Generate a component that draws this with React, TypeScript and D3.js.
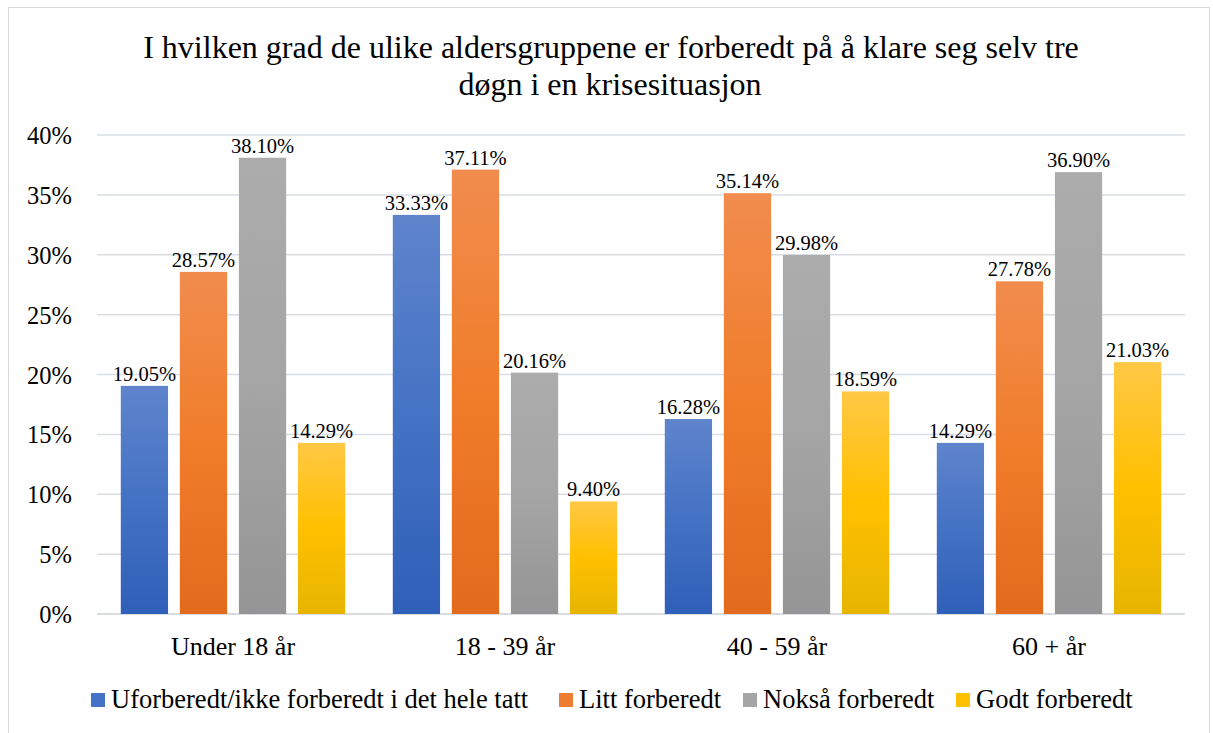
import React from 'react';
import * as d3 from 'd3';

const categories = ['Under 18 år', '18 - 39 år', '40 - 59 år', '60 + år'];
const seriesNames = [
  'Uforberedt/ikke forberedt i det hele tatt',
  'Litt forberedt',
  'Nokså forberedt',
  'Godt forberedt',
];
const uforberedt = [19.05, 33.33, 16.28, 14.29];
const litt = [28.57, 37.11, 35.14, 27.78];
const noksa = [38.1, 20.16, 29.98, 36.9];
const godt = [14.29, 9.4, 18.59, 21.03];
const yTicks = [0, 5, 10, 15, 20, 25, 30, 35, 40];

const seriesValues = [uforberedt, litt, noksa, godt];
const gradients = [
  { top: '#5f84cc', mid: '#4472c4', bottom: '#2f5fb8', solid: '#4472c4' },
  { top: '#f18c4e', mid: '#f07d2a', bottom: '#e26a1c', solid: '#ed7d31' },
  { top: '#acacac', mid: '#a5a5a5', bottom: '#959595', solid: '#a5a5a5' },
  { top: '#ffc845', mid: '#ffc000', bottom: '#e6b500', solid: '#ffc000' },
];

const App = () => {
  const W = 1213;
  const H = 733;
  const plot = { left: 97, right: 1185, top: 135, bottom: 614 };

  const x0 = d3.scaleBand().domain(categories).range([plot.left, plot.right]).paddingInner(0.175).paddingOuter(0.0875);
  const x1 = d3.scaleBand().domain(seriesNames).range([0, x0.bandwidth()]).paddingInner(0.2);
  const y = d3.scaleLinear().domain([0, 40]).range([plot.bottom, plot.top]);

  const font = '"Liberation Serif", "Times New Roman", serif';

  // legend square positions
  const legendX = [91, 559, 743, 956];

  return (
    <svg width={W} height={H} style={{ position: 'absolute', left: 0, top: 0, background: '#fff' }} fontFamily={font}>
      <defs>
        {gradients.map((g, i) => (
          <linearGradient key={i} id={`grad${i}`} x1="0" y1="0" x2="0" y2="1">
            <stop offset="0%" stopColor={g.top} />
            <stop offset="50%" stopColor={g.mid} />
            <stop offset="100%" stopColor={g.bottom} />
          </linearGradient>
        ))}
      </defs>
      <rect x={8.5} y={7.5} width={1201} height={740} fill="#fff" stroke="#d9d9d9" />

      <text x={611} y={58} textAnchor="middle" fontSize={32} fill="#000">
        I hvilken grad de ulike aldersgruppene er forberedt på å klare seg selv tre
      </text>
      <text x={610} y={95} textAnchor="middle" fontSize={32} fill="#000">
        døgn i en krisesituasjon
      </text>

      {yTicks.map((t) => (
        <g key={t}>
          <line x1={plot.left} x2={plot.right} y1={y(t)} y2={y(t)} stroke="#d9dde3" strokeWidth={t === 0 ? 2 : 1.5} />
          <text x={72} y={y(t) + 9} textAnchor="end" fontSize={24.5} fill="#000">{`${t}%`}</text>
        </g>
      ))}

      {categories.map((c, ci) => (
        <g key={c} transform={`translate(${x0(c)},0)`}>
          {seriesNames.map((s, si) => {
            const v = seriesValues[si][ci];
            const bx = x1(s) as number;
            return (
              <g key={s}>
                <rect x={bx} y={y(v)} width={x1.bandwidth()} height={plot.bottom - y(v)} fill={`url(#grad${si})`} />
                <text x={bx + x1.bandwidth() / 2} y={y(v) - 5} textAnchor="middle" fontSize={20.5} fill="#000">
                  {`${v.toFixed(2)}%`}
                </text>
              </g>
            );
          })}
          <text x={x0.bandwidth() / 2} y={655} textAnchor="middle" fontSize={26} fill="#000">{c}</text>
        </g>
      ))}

      {seriesNames.map((s, i) => (
        <g key={s} transform={`translate(${legendX[i]},0)`}>
          <rect x={0} y={693} width={14} height={14} fill={gradients[i].solid} />
          <text x={20} y={708} fontSize={26.5} fill="#000">{s}</text>
        </g>
      ))}
    </svg>
  );
};

export default App;
